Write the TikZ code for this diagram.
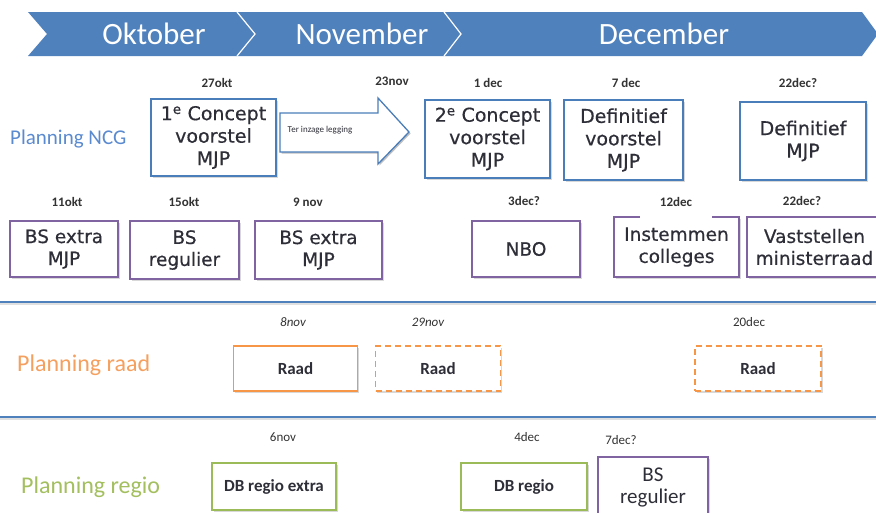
\documentclass[tikz,border=0pt]{standalone}
\usepackage{fontspec}
\setmainfont{Carlito}
\newfontfamily\boxfont[FakeBold=0.5]{DejaVu Sans}
\usetikzlibrary{shadows}
\definecolor{hdrblue}{HTML}{4F81BD}
\definecolor{ncgblue}{HTML}{4A7EBB}
\definecolor{ncgtext}{HTML}{5A8AD0}
\definecolor{bspurple}{HTML}{8064A2}
\definecolor{raadorange}{HTML}{F79646}
\definecolor{raadtext}{HTML}{F5A05E}
\definecolor{regiogreen}{HTML}{9BBB59}
\definecolor{regiotext}{HTML}{A3BF5E}
\definecolor{boxtext}{HTML}{2E2E38}
\definecolor{datetext}{HTML}{333333}
\begin{document}
\begin{tikzpicture}[x=1pt,y=-1pt,
  hdr/.style={text=white,font=\fontsize{31}{31}\selectfont,inner sep=0pt},
  lbl/.style={anchor=west,inner sep=0pt,font=\fontsize{24}{24}\selectfont},
  datelbl/.style={inner sep=1pt,text=datetext,font=\bfseries\fontsize{13}{14}\selectfont},
  basebox/.style={line width=1.6pt,fill=white,align=center,inner sep=0pt,text=boxtext,
    drop shadow={opacity=0.3,shadow xshift=1.5pt,shadow yshift=-1.5pt}},
  ncgbox/.style={basebox,draw=ncgblue,font=\boxfont\fontsize{19}{22.5}\selectfont},
  bsbox/.style={basebox,draw=bspurple,font=\boxfont\fontsize{18.5}{22}\selectfont},
  raadbox/.style={basebox,draw=raadorange,font=\bfseries\fontsize{17}{17}\selectfont},
  raaddash/.style={raadbox,dash pattern=on 6pt off 4pt},
  regiobox/.style={basebox,draw=regiogreen,font=\bfseries\fontsize{17}{17}\selectfont},
  sepline/.style={draw=hdrblue,line width=2pt}
]
\clip (0,0) rectangle (876,512);
\fill[white] (0,0) rectangle (876,512);

% header band
\fill[hdrblue] (28,12) -- (862,12) -- (878,34) -- (862,56) -- (28,56) -- (47,34) -- cycle;
\draw[white,line width=1.2pt] (237,12) -- (255,34) -- (237,56);
\draw[white,line width=1.2pt] (444,12) -- (461,34) -- (444,56);
\node[hdr] (okt) at (154,34) {Oktober};
\node[hdr] (nov) at (362,34) {November};
\node[hdr] (dec) at (664,34) {December};

% row labels
\node[lbl,text=ncgtext,font=\fontsize{21}{21}\selectfont] (lncg) at (10,139) {Planning NCG};
\node[lbl,text=raadtext] (lraad) at (17,365) {Planning raad};
\node[lbl,text=regiotext] (lregio) at (21,487) {Planning regio};

% separator lines
\coordinate (s1a) at (0,302);
\coordinate (s1b) at (876,302);
\coordinate (s2a) at (0,417);
\coordinate (s2b) at (876,417);
\draw[black!12,line width=1.5pt] ([yshift=-2pt]s1a) -- ([yshift=-2pt]s1b);
\draw[black!12,line width=1.5pt] ([yshift=-2pt]s2a) -- ([yshift=-2pt]s2b);
\draw[sepline] (s1a) -- (s1b);
\draw[sepline] (s2a) -- (s2b);

% NCG row
\node[ncgbox,minimum width=125pt,minimum height=77pt] (c1) at (213.5,137.5) {1\textsuperscript{e} Concept\\voorstel\\MJP};
\node[ncgbox,minimum width=125pt,minimum height=78pt] (c2) at (487.5,139) {2\textsuperscript{e} Concept\\voorstel\\MJP};
\node[ncgbox,minimum width=119pt,minimum height=80pt] (dv) at (623.5,140) {Definitief\\voorstel\\MJP};
\node[ncgbox,minimum width=126pt,minimum height=78pt] (dm) at (803,141) {Definitief\\MJP};

% arrow
\fill[black!25] (281.5,114.5) -- (379.5,114.5) -- (379.5,99.5) -- (410.5,133.5) -- (379.5,165.5) -- (379.5,153.5) -- (281.5,153.5) -- cycle;
\draw[ncgblue,line width=1.3pt,fill=white] (280,113) -- (378,113) -- (378,98) -- (409,132) -- (378,164) -- (378,152) -- (280,152) -- cycle;
\node[inner sep=0pt,text=boxtext,font=\fontsize{9}{9}\selectfont] (arrtxt) at (320,130) {Ter inzage legging};

\node[datelbl] (d27okt) at (217,83) {27okt};
\node[datelbl] (d23nov) at (392,81) {23nov};
\node[datelbl] (d1dec) at (488,83) {1 dec};
\node[datelbl] (d7dec) at (626,83) {7 dec};
\node[datelbl] (d22deca) at (798,83) {22dec?};

% BS row
\node[bsbox,minimum width=108pt,minimum height=56pt] (bs1) at (64,249) {BS extra\\MJP};
\node[bsbox,minimum width=109pt,minimum height=58pt] (bs2) at (184.5,250) {BS\\regulier};
\node[bsbox,minimum width=127pt,minimum height=58pt] (bs3) at (318.5,250) {BS extra\\MJP};
\node[bsbox,minimum width=108pt,minimum height=56pt] (nbo) at (526,249) {NBO};
\node[bsbox,minimum width=125pt,minimum height=60pt] (inst) at (676.5,247) {Instemmen\\colleges};
\node[bsbox,minimum width=135pt,minimum height=60pt] (vast) at (814.5,247) {Vaststellen\\ministerraad};

\node[datelbl] (d11okt) at (67,202) {11okt};
\node[datelbl] (d15okt) at (184,202) {15okt};
\node[datelbl] (d9nov) at (308,202) {9 nov};
\node[datelbl] (d3dec) at (524,201) {3dec?};
\node[datelbl,fill=white,minimum width=72pt,minimum height=34pt] (d12dec) at (676,202) {12dec};
\node[datelbl] (d22decb) at (802,201) {22dec?};

% Raad row
\node[raadbox,minimum width=124pt,minimum height=45pt] (r1) at (295.5,368.5) {Raad};
\node[raaddash,minimum width=125pt,minimum height=45pt] (r2) at (438,368.5) {Raad};
\node[raaddash,minimum width=126pt,minimum height=45pt] (r3) at (758,368.5) {Raad};

\node[datelbl,font=\itshape\fontsize{13}{13}\selectfont] (d8nov) at (293,322) {8nov};
\node[datelbl,font=\itshape\fontsize{13}{13}\selectfont] (d29nov) at (428,322) {29nov};
\node[datelbl,font=\fontsize{13}{13}\selectfont] (d20dec) at (749,322) {20dec};

% Regio row
\node[regiobox,minimum width=124pt,minimum height=47pt] (db1) at (274,486.5) {DB regio extra};
\node[regiobox,minimum width=126pt,minimum height=47pt] (db2) at (524,486.5) {DB regio};
\node[bsbox,font=\fontsize{21}{22}\selectfont,minimum width=110pt,minimum height=60pt] (bs4) at (653,487) {BS\\regulier};

\node[datelbl,font=\fontsize{13}{13}\selectfont] (d6nov) at (283,437) {6nov};
\node[datelbl,font=\fontsize{13}{13}\selectfont] (d4dec) at (527,437) {4dec};
\node[datelbl,font=\fontsize{13}{13}\selectfont] (d7decq) at (621,440) {7dec?};
\end{tikzpicture}
\end{document}
